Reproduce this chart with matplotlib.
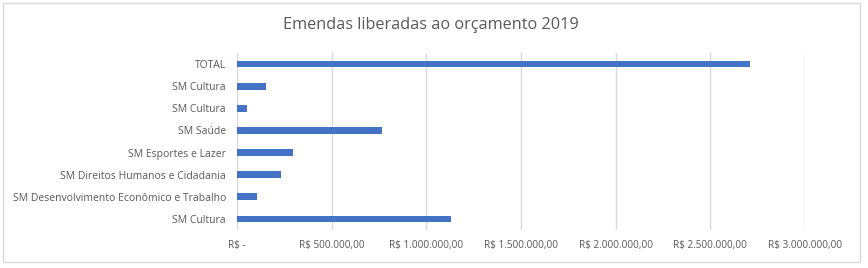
import matplotlib.pyplot as plt
from matplotlib.patches import Rectangle

categories = [
    "SM Cultura",
    "SM Desenvolvimento Econômico e Trabalho",
    "SM Direitos Humanos e Cidadania",
    "SM Esportes e Lazer",
    "SM Saúde",
    "SM Cultura",
    "SM Cultura",
    "TOTAL",
]
values = [1131000, 104000, 231000, 294000, 765000, 51000, 152000, 2711000]
xticks = [0, 500000, 1000000, 1500000, 2000000, 2500000, 3000000]
xtick_labels = ["R$ -", "R$ 500.000,00", "R$ 1.000.000,00", "R$ 1.500.000,00",
                "R$ 2.000.000,00", "R$ 2.500.000,00", "R$ 3.000.000,00"]

plt.rcParams['font.family'] = ['Open Sans', 'DejaVu Sans']

W, H = 868, 268
fig = plt.figure(figsize=(W / 100, H / 100), dpi=100)
ax = fig.add_axes([237 / W, 1 - 230 / H, (805 - 237) / W, (230 - 53) / H])

pos = list(range(len(categories)))
ax.barh(pos, values, height=0.3, color="#4472c4", zorder=3)

ax.set_xlim(0, 3000000)
ax.set_ylim(-0.5, len(categories) - 0.5)
ax.set_yticks(pos)
ax.set_yticklabels(categories, fontsize=7.5, color="#595959")
ax.set_xticks(xticks)
ax.set_xticklabels(xtick_labels, fontsize=7.2, color="#595959")
ax.tick_params(axis="both", length=0)
ax.tick_params(axis="y", pad=8)
ax.tick_params(axis="x", pad=7)
ax.grid(axis="x", color="#d9d9d9", linewidth=1, zorder=0)
for s in ax.spines.values():
    s.set_visible(False)

fig.text(431 / W, 1 - 25 / H, "Emendas liberadas ao orçamento 2019",
         ha="center", va="center", fontsize=11.7, color="#595959")

fig.patches.append(Rectangle((3 / W, 1 - 262 / H), 857 / W, 259 / H,
                             transform=fig.transFigure, fill=False,
                             edgecolor="#d9d9d9", linewidth=1))

fig.savefig("out.png", dpi=100)
